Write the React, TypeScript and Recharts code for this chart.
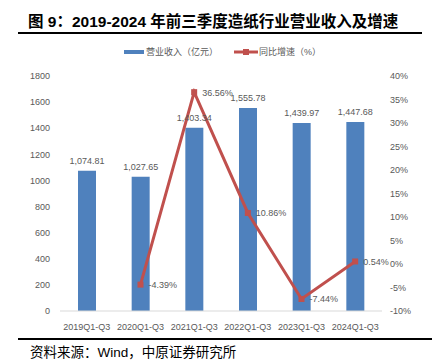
import React from 'react';
import { ComposedChart, Bar, Line, XAxis, YAxis, LabelList } from 'recharts';

const categories = ['2019Q1-Q3', '2020Q1-Q3', '2021Q1-Q3', '2022Q1-Q3', '2023Q1-Q3', '2024Q1-Q3'];
const revenue = [1074.81, 1027.65, 1403.34, 1555.78, 1439.97, 1447.68];
const growth: (number | null)[] = [null, -4.39, 36.56, 10.86, -7.44, 0.54];
const leftTicks = [0, 200, 400, 600, 800, 1000, 1200, 1400, 1600, 1800];
const rightTicks = [-10, -5, 0, 5, 10, 15, 20, 25, 30, 35, 40];

const data = categories.map((name, i) => ({ name, rev: revenue[i], g: growth[i] }));

const BAR = '#4F81BD';
const RED = '#C0504D';
const GRAY = '#595959';
const FONT = "'Liberation Sans', 'Noto Sans CJK SC', sans-serif";

const SquareDot = (props: any) => {
  const { cx, cy, value } = props;
  if (value == null || cx == null || cy == null) return null;
  return <rect x={cx - 3} y={cy - 3} width={6} height={6} fill={RED} />;
};

const GrowthLabel = (props: any) => {
  const { x, y, value } = props;
  if (value == null) return null;
  return (
    <text x={x + 8} y={y + 3.5} fontSize={9} fill={GRAY} fontFamily={FONT}>
      {value.toFixed(2)}%
    </text>
  );
};

const fmtRev = (v: any) =>
  Number(v).toLocaleString('en-US', { minimumFractionDigits: 2, maximumFractionDigits: 2 });

const App = () => {
  return (
    <div style={{ position: 'absolute', left: 0, top: 0, width: 432, height: 361, background: '#fff', fontFamily: FONT }}>
      <div style={{ position: 'absolute', left: 28, top: 12, fontSize: 15.5, fontWeight: 'bold', color: '#000', whiteSpace: 'nowrap', lineHeight: '20px' }}>
        图 9：2019-2024 年前三季度造纸行业营业收入及增速
      </div>
      <div style={{ position: 'absolute', left: 18, top: 32, width: 404, height: 2, background: '#000' }} />

      {/* legend */}
      <div style={{ position: 'absolute', left: 124, top: 50, width: 20, height: 4, background: BAR }} />
      <div style={{ position: 'absolute', left: 146, top: 45, fontSize: 9, color: GRAY, whiteSpace: 'nowrap', lineHeight: '14px' }}>
        营业收入（亿元）
      </div>
      <svg style={{ position: 'absolute', left: 234, top: 47 }} width={24} height={10}>
        <line x1={0} y1={5} x2={24} y2={5} stroke={RED} strokeWidth={3} />
        <rect x={9} y={2} width={6} height={6} fill={RED} />
      </svg>
      <div style={{ position: 'absolute', left: 259, top: 45, fontSize: 9, color: GRAY, whiteSpace: 'nowrap', lineHeight: '14px' }}>
        同比增速（%）
      </div>

      <div style={{ position: 'absolute', left: 0, top: 60 }}>
        <ComposedChart width={432} height={280} data={data} margin={{ top: 16, right: 0, bottom: 7, left: 10 }}>
          <XAxis
            dataKey="name"
            height={22}
            tickLine={false}
            axisLine={{ stroke: '#D9D9D9' }}
            tickMargin={7}
            tick={{ fill: GRAY, fontSize: 9, fontFamily: FONT }}
            interval={0}
          />
          <YAxis
            yAxisId="l"
            width={50}
            domain={[0, 1800]}
            ticks={leftTicks}
            axisLine={false}
            tickLine={false}
            tickMargin={4}
            tick={{ fill: GRAY, fontSize: 9, fontFamily: FONT }}
          />
          <YAxis
            yAxisId="r"
            orientation="right"
            width={50}
            domain={[-10, 40]}
            ticks={rightTicks}
            axisLine={false}
            tickLine={false}
            tickFormatter={(v: number) => `${v}%`}
            tick={{ fill: GRAY, fontSize: 9, fontFamily: FONT }}
          />
          <Bar yAxisId="l" dataKey="rev" fill={BAR} barSize={18} isAnimationActive={false}>
            <LabelList dataKey="rev" position="top" offset={7} formatter={fmtRev} fill={GRAY} fontSize={9} fontFamily={FONT} />
          </Bar>
          <Line
            yAxisId="r"
            dataKey="g"
            stroke={RED}
            strokeWidth={3}
            dot={<SquareDot />}
            activeDot={false}
            isAnimationActive={false}
          >
            <LabelList dataKey="g" content={<GrowthLabel />} />
          </Line>
        </ComposedChart>
      </div>

      <div style={{ position: 'absolute', left: 18, top: 338, width: 414, height: 2, background: '#000' }} />
      <div style={{ position: 'absolute', left: 30, top: 344, fontSize: 13.5, color: '#000', whiteSpace: 'nowrap', lineHeight: '17px' }}>
        资料来源：Wind，中原证券研究所
      </div>
    </div>
  );
};

export default App;
